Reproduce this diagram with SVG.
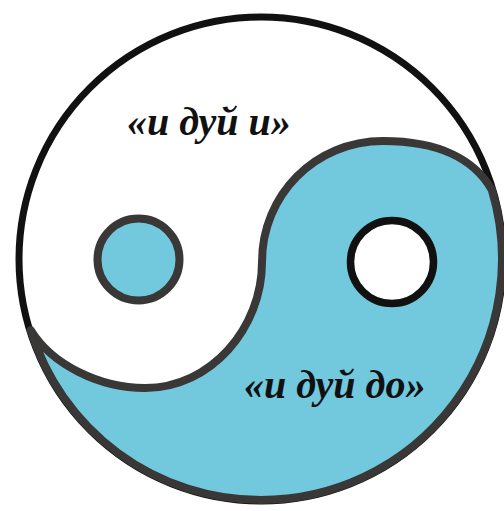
<svg xmlns="http://www.w3.org/2000/svg" width="504" height="511" viewBox="0 0 504 511">
<style>
.lbl{font-family:"Liberation Serif","Times New Roman",serif;font-style:italic;font-weight:bold;font-size:40px;fill:#111}
.gray{stroke:#3a3737;stroke-width:8;stroke-linejoin:round}
</style>
<rect width="504" height="511" fill="#ffffff"/>
<g id="outer">
<circle cx="261" cy="259" r="242" fill="#ffffff" stroke="#111111" stroke-width="7"/>
</g>
<g id="yin">
<path class="gray" fill="#72c8dd" d="M 262,262 C 262,195 315,141 383,141 C 440,141 475,160 491.9,190 A 241 241 0 0 1 261,500 A 241 241 0 0 1 30.7,330 C 52,365 100,388 145,388 C 211,388 262,328 262,262 Z"/>
</g>
<g id="dot-blue">
<circle class="gray" cx="138.5" cy="259.5" r="41" fill="#72c8dd"/>
</g>
<g id="dot-white">
<circle cx="392" cy="262" r="41.5" fill="#ffffff" stroke="#111111" stroke-width="7.5"/>
</g>
<g id="labels">
<text class="lbl" x="127" y="135">«и дуй и»</text>
<text class="lbl" x="244" y="398">«и дуй до»</text>
</g>
</svg>
